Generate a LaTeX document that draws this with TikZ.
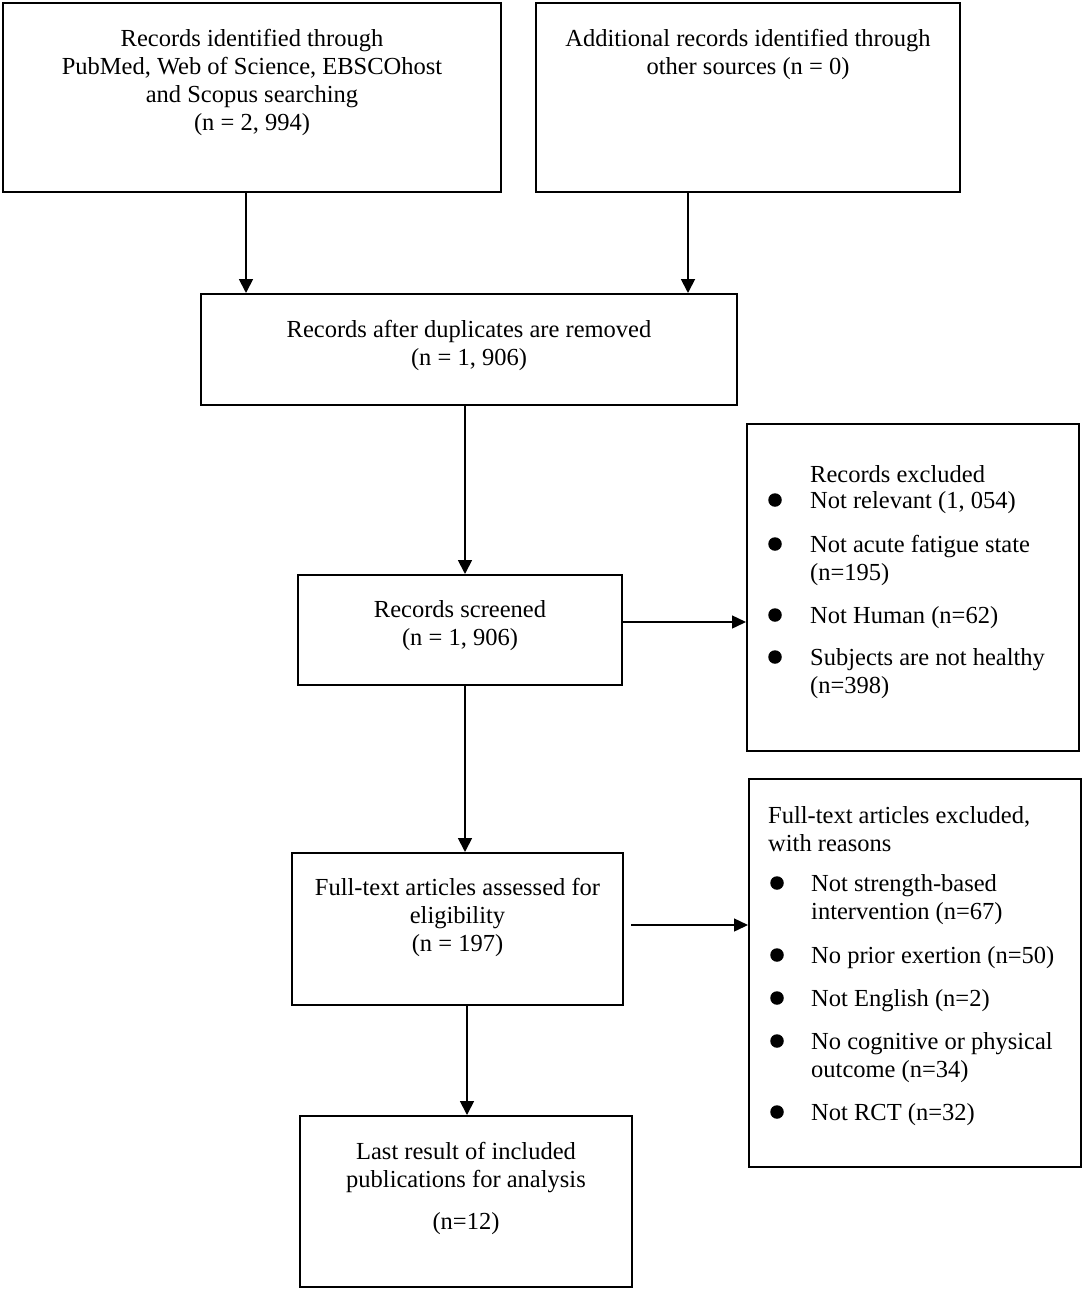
\documentclass[tikz,border=0pt]{standalone}
\usepackage{fontspec}
\setmainfont{Liberation Serif}
\usetikzlibrary{arrows.meta}
\begin{document}
\begin{tikzpicture}[x=1pt,y=-1pt,
  box/.style={draw=black,line width=2pt,inner sep=0pt,rectangle},
  txt/.style={inner sep=0pt,align=center,yshift=-2.5pt,font=\fontsize{24.5}{28}\selectfont},
  ltxt/.style={inner sep=0pt,align=left,anchor=west,yshift=-2.5pt,font=\fontsize{24.5}{28}\selectfont},
  dot/.style={circle,fill=black,inner sep=0pt,minimum size=13.5pt},
  arr/.style={line width=1.8pt,-{Triangle[length=14pt,width=14pt]}},
  harr/.style={line width=1.4pt,-{Triangle[length=14pt,width=13pt]}}]
\useasboundingbox[fill=white] (0,0) rectangle (1084,1291);
% boxes
\node[box,minimum width=498pt,minimum height=189pt] (A) at (252,97.5) {};
\node[box,minimum width=424pt,minimum height=189pt] (B) at (748,97.5) {};
\node[box,minimum width=536pt,minimum height=111pt] (C) at (469,349.5) {};
\node[box,minimum width=324pt,minimum height=110pt] (D) at (460,630) {};
\node[box,minimum width=332pt,minimum height=327pt] (E1) at (913,587.5) {};
\node[box,minimum width=331pt,minimum height=152pt] (F) at (457.5,929) {};
\node[box,minimum width=332pt,minimum height=388pt] (E2) at (915,973) {};
\node[box,minimum width=332pt,minimum height=171pt] (G) at (466,1201.5) {};
% texts
\node[txt] (tA) at (252,80) {Records identified through\\PubMed, Web of Science, EBSCOhost\\and Scopus searching\\(n = 2, 994)};
\node[txt] (tB) at (748,52) {Additional records identified through\\other sources (n = 0)};
\node[txt] (tC) at (469,343) {Records after duplicates are removed\\(n = 1, 906)};
\node[txt] (tD) at (460,623) {Records screened\\(n = 1, 906)};
\node[txt] (tF) at (457.5,915) {Full-text articles assessed for\\eligibility\\(n = 197)};
\node[txt] (tG) at (466,1186) {Last result of included\\publications for analysis\\[14pt](n=12)};
% excluded records
\node[ltxt] (h1) at (810,472) {Records excluded};
\node[dot] (b11) at (775,500) {};
\node[ltxt] (i11) at (810,500) {Not relevant (1, 054)};
\node[dot] (b12) at (775,544) {};
\node[ltxt] (i12) at (810,558) {Not acute fatigue state\\(n=195)};
\node[dot] (b13) at (775,615) {};
\node[ltxt] (i13) at (810,615) {Not Human (n=62)};
\node[dot] (b14) at (775,657) {};
\node[ltxt] (i14) at (810,671) {Subjects are not healthy\\(n=398)};
% full-text excluded
\node[ltxt] (h2) at (768,826.5) {Full-text articles excluded,\\with reasons};
\node[dot] (b21) at (777,883) {};
\node[ltxt] (i21) at (811,897) {Not strength-based\\intervention (n=67)};
\node[dot] (b22) at (777,955) {};
\node[ltxt] (i22) at (811,955) {No prior exertion (n=50)};
\node[dot] (b23) at (777,998) {};
\node[ltxt] (i23) at (811,998) {Not English (n=2)};
\node[dot] (b24) at (777,1041) {};
\node[ltxt] (i24) at (811,1055) {No cognitive or physical\\outcome (n=34)};
\node[dot] (b25) at (777,1112) {};
\node[ltxt] (i25) at (811,1112) {Not RCT (n=32)};
% connector x / y positions
\coordinate (xa) at (246,0);
\coordinate (xb) at (688,0);
\coordinate (xc) at (465,0);
\coordinate (xf) at (467,0);
\coordinate (yd) at (0,622);
\coordinate (yf) at (0,925);
% connectors
\draw[arr] (A.south -| xa) -- (C.north -| xa);
\draw[arr] (B.south -| xb) -- (C.north -| xb);
\draw[arr] (C.south -| xc) -- (D.north -| xc);
\draw[arr] (D.south -| xc) -- (F.north -| xc);
\draw[arr] (F.south -| xf) -- (G.north -| xf);
\draw[harr] (D.east |- yd) -- (E1.west |- yd);
\draw[harr,shorten <=7pt] (F.east |- yf) -- (E2.west |- yf);
\end{tikzpicture}
\end{document}
